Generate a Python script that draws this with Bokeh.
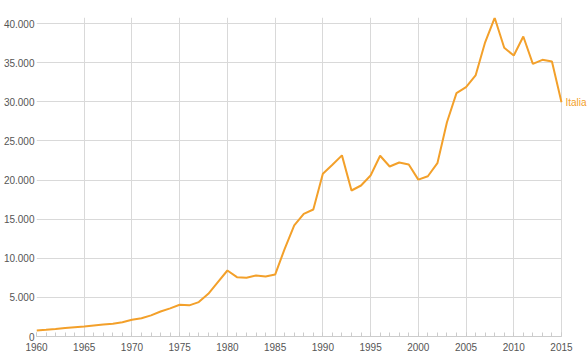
from bokeh.plotting import figure
from bokeh.models import (Range1d, SingleIntervalTicker, CustomJSTickFormatter,
                          ColumnDataSource, Grid)
from bokeh.core.properties import value
from bokeh.embed import file_html
from bokeh.resources import INLINE

years = list(range(1960, 2016))
values = [770, 850, 950, 1080, 1180, 1280, 1400, 1520, 1640, 1820,
          2130, 2330, 2700, 3200, 3600, 4050, 3980, 4400, 5450, 6940,
          8435, 7580, 7500, 7800, 7670, 7920, 11200, 14190, 15680, 16230,
          20790, 21950, 23150, 18660, 19300, 20580, 23100, 21730, 22240, 21980,
          20050, 20480, 22150, 27390, 31100, 31860, 33360, 37600, 40730, 36900,
          35910, 38340, 34850, 35360, 35150, 29950]
series_name = "Italia"

FONT = "Liberation Sans"
ORANGE = "#f3a02a"

src = ColumnDataSource(dict(x=years, y=values))
lab_src = ColumnDataSource(dict(x=[years[-1]], y=[values[-1]], t=[series_name]))

p = figure(width=588, height=359, output_backend="svg", toolbar_location=None,
           x_range=Range1d(1960, 2017.83), y_range=Range1d(0, 40770),
           min_border_left=36, min_border_right=0, min_border_top=17,
           min_border_bottom=23)
p.outline_line_color = None
p.background_fill_color = "white"
p.border_fill_color = "white"

p.line("x", "y", source=src, line_color=ORANGE, line_width=2)
p.text("x", "y", text="t", source=lab_src, x_offset=4, text_baseline="middle",
       text_font=value(FONT), text_font_size="10px", text_color=ORANGE)

p.xaxis.ticker = SingleIntervalTicker(interval=5, num_minor_ticks=5)
p.yaxis.ticker = SingleIntervalTicker(interval=5000, num_minor_ticks=0)
p.yaxis.formatter = CustomJSTickFormatter(
    code="return tick.toFixed(0).replace(/\\B(?=(\\d{3})+(?!\\d))/g, '.');")
p.xaxis.bounds = (years[0], years[-1])

for ax in (p.xaxis, p.yaxis):
    ax.major_label_text_font = FONT
    ax.major_label_text_font_size = "10px"
    ax.major_label_text_color = "#555555"

p.xaxis.axis_line_color = "#cccccc"
p.xaxis.major_tick_line_color = "#cccccc"
p.xaxis.minor_tick_line_color = "#cccccc"
p.xaxis.major_tick_in = 4
p.xaxis.major_tick_out = 0
p.xaxis.minor_tick_in = 4
p.xaxis.minor_tick_out = 0
p.xaxis.major_label_standoff = 6

p.yaxis.axis_line_color = None
p.yaxis.major_tick_line_color = None
p.yaxis.minor_tick_line_color = None
p.yaxis.major_tick_in = 0
p.yaxis.major_tick_out = 0
p.yaxis.minor_tick_in = 0
p.yaxis.minor_tick_out = 0
p.yaxis.major_label_standoff = 2

p.xgrid.ticker = p.xaxis.ticker
p.xgrid.grid_line_color = "#d9d9d9"
p.ygrid.grid_line_color = "#d9d9d9"
p.xgrid.bounds = (years[0], years[-1])
if "cross_bounds" in Grid.properties():
    p.ygrid.cross_bounds = (years[0], years[-1])

open("out.html", "w").write(file_html(p, INLINE))
